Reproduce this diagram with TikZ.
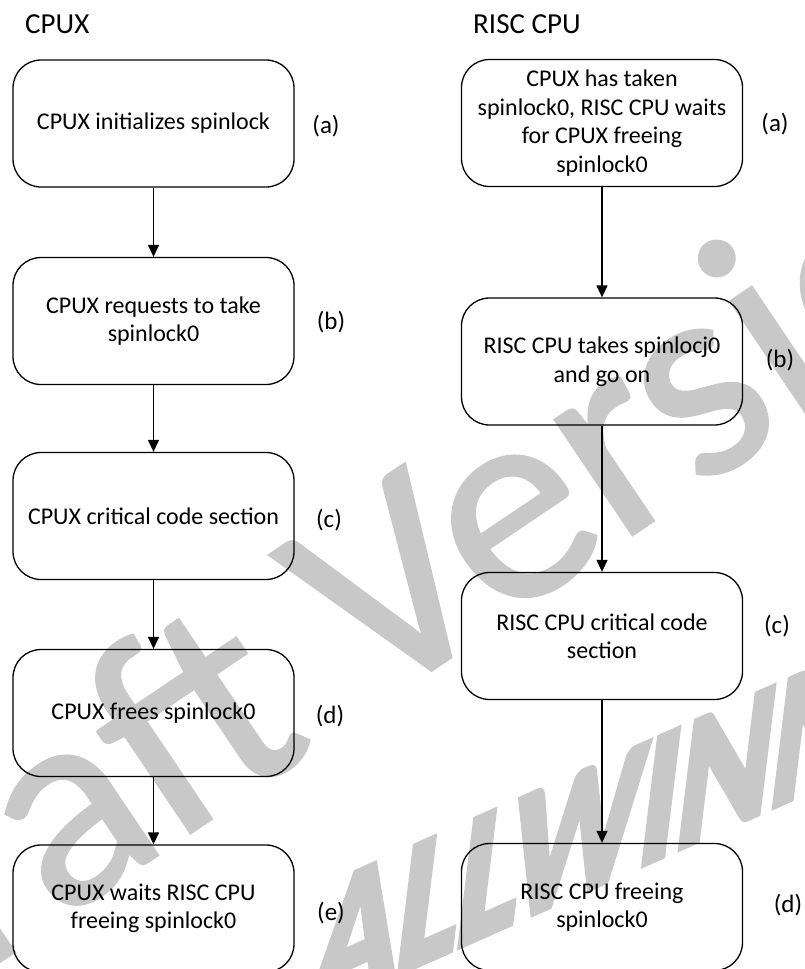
\documentclass[tikz,border=0pt]{standalone}
\usepackage{fontspec}
\setmainfont{Carlito}
\usetikzlibrary{arrows.meta}
\definecolor{wm}{RGB}{200,200,200}
\newcommand{\heavytext}[2]{\special{pdf:literal direct 2 Tr #1 w}#2\special{pdf:literal direct 0 Tr}}
\tikzset{
 box/.style={draw, line width=1.3pt, rounded corners=28pt, minimum width=281pt, minimum height=127pt, align=center, font=\fontsize{24}{28.5}\selectfont, inner sep=0pt},
 lbl/.style={font=\fontsize{25}{28.5}\selectfont, inner sep=0pt},
 ttl/.style={font=\fontsize{29}{34}\selectfont, inner sep=0pt, anchor=base west},
 arr/.style={-{Triangle[length=12pt,width=11pt]}, line width=1.3pt},
 wmark/.style={text=wm, inner sep=0pt, anchor=base west},
}
\begin{document}
\begin{tikzpicture}[x=1pt,y=-1pt]
\useasboundingbox (0,0) rectangle (805,969);
\begin{scope}
\clip (0,0) rectangle (805,969);
\node[wmark, rotate=34, font=\fontsize{290}{290}\selectfont] (wm1) at (-170,1076) {\heavytext{3}{Draft Version}};
\begin{scope}[shift={(306,1014)}, cm={0.731,0.325,0.122,0.993,(0,0)}]
\node[wmark, transform shape, font=\bfseries\fontsize{195}{195}\selectfont] (wm2) at (0,0) {\heavytext{8}{ALLWINNER}};
\end{scope}
\end{scope}
\node[ttl] (t1) at (25,33) {CPUX};
\node[ttl] (t2) at (473,33) {RISC CPU};
\node[box] (la) at (153.5,123.5) {CPUX initializes spinlock};
\node[box] (lb) at (153.5,321) {CPUX requests to take\\spinlock0};
\node[box] (lc) at (153.5,516) {CPUX critical code section};
\node[box] (ld) at (153.5,713) {CPUX frees spinlock0};
\node[box] (le) at (153.5,908.5) {CPUX waits RISC CPU\\freeing spinlock0};
\node[box] (ra) at (602,123) {CPUX has taken\\spinlock0, RISC CPU waits\\for CPUX freeing\\spinlock0};
\node[box] (rb) at (602,361.5) {RISC CPU takes spinlocj0\\and go on};
\node[box] (rc) at (602,636) {RISC CPU critical code\\section};
\node[box] (rd) at (602,907) {RISC CPU freeing\\spinlock0};
\node[lbl] (lal) at (326,126) {(a)};
\node[lbl] (lbl) at (331,322) {(b)};
\node[lbl] (lcl) at (329,520) {(c)};
\node[lbl] (ldl) at (330,716) {(d)};
\node[lbl] (lel) at (331,913) {(e)};
\node[lbl] (ral) at (775,124) {(a)};
\node[lbl] (rbl) at (780,360) {(b)};
\node[lbl] (rcl) at (777,626) {(c)};
\node[lbl] (rdl) at (788,905) {(d)};
\draw[arr] (la) -- (lb);
\draw[arr] (lb) -- (lc);
\draw[arr] (lc) -- (ld);
\draw[arr] (ld) -- (le);
\draw[arr] (ra) -- (rb);
\draw[arr] (rb) -- (rc);
\draw[arr] (rc) -- (rd);
\end{tikzpicture}
\end{document}
